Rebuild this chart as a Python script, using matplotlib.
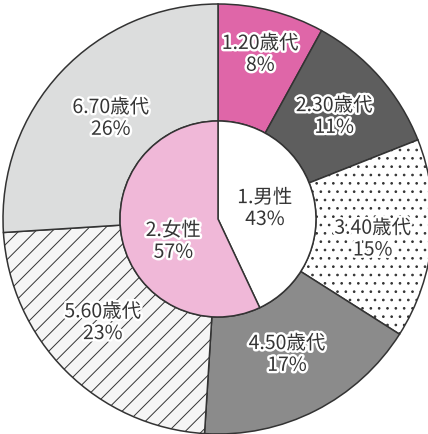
import matplotlib.pyplot as plt
import matplotlib.patheffects as pe
import numpy as np

plt.rcParams['font.family'] = ['Noto Sans CJK JP', 'DejaVu Sans']
plt.rcParams['hatch.linewidth'] = 0.7

# --- data ---
age_labels = ['1.20歳代', '2.30歳代', '3.40歳代', '4.50歳代', '5.60歳代', '6.70歳代']
age_pct = [8, 11, 15, 17, 23, 26]
sex_labels = ['1.男性', '2.女性']
sex_pct = [43, 57]

# --- style ---
age_colors = ['#df66a8', '#5e5e5e', '#ffffff', '#8b8b8b', '#f5f5f5', '#dcdddd']
age_hatch = [None, None, '..', None, '//', None]
hatch_col = [None, None, '#222222', None, '#666666', None]
sex_colors = ['#ffffff', '#f0b8d8']
edge = '#333333'

W, H = 428, 434
cx, cy = 218, H - 219
R_out, R_in = 215, 98

fig = plt.figure(figsize=(W / 100, H / 100), dpi=100)
ax = fig.add_axes([0, 0, 1, 1])

outer, _ = ax.pie(age_pct, radius=R_out, center=(cx, cy), startangle=90,
                  counterclock=False, colors=age_colors,
                  wedgeprops=dict(width=R_out - R_in, edgecolor=edge, linewidth=1.1))
for w, h, hc in zip(outer, age_hatch, hatch_col):
    if h:
        w.set_hatch(h)
        if hasattr(w, 'set_hatchcolor'):
            w.set_hatchcolor(hc)

inner, _ = ax.pie(sex_pct, radius=R_in, center=(cx, cy), startangle=90,
                  counterclock=False, colors=sex_colors,
                  wedgeprops=dict(edgecolor=edge, linewidth=1.1))

# pie() resets the limits, so set them afterwards
ax.set_xlim(0, W)
ax.set_ylim(0, H)
ax.set_aspect('equal')
ax.axis('off')

halo = [pe.withStroke(linewidth=3.5, foreground='white')]
txt = dict(ha='center', va='center', fontsize=14, color='#353535',
           linespacing=1.05, path_effects=halo)

# label radius / angle nudge per wedge
age_r = [170, 155, 156, 152, 155, 147]
age_da = [0, 0, -2, 0, -3, 0]
for w, lab, p, r, da in zip(outer, age_labels, age_pct, age_r, age_da):
    a = np.deg2rad((w.theta1 + w.theta2) / 2 + da)
    ax.text(cx + r * np.cos(a), cy + r * np.sin(a), f'{lab}\n{p}%', **txt)

sex_r = [48, 50]
sex_da = [0, 14]
for w, lab, p, r, da in zip(inner, sex_labels, sex_pct, sex_r, sex_da):
    a = np.deg2rad((w.theta1 + w.theta2) / 2 + da)
    ax.text(cx + r * np.cos(a), cy + r * np.sin(a), f'{lab}\n{p}%', **txt)

fig.savefig('out.png', dpi=100)
